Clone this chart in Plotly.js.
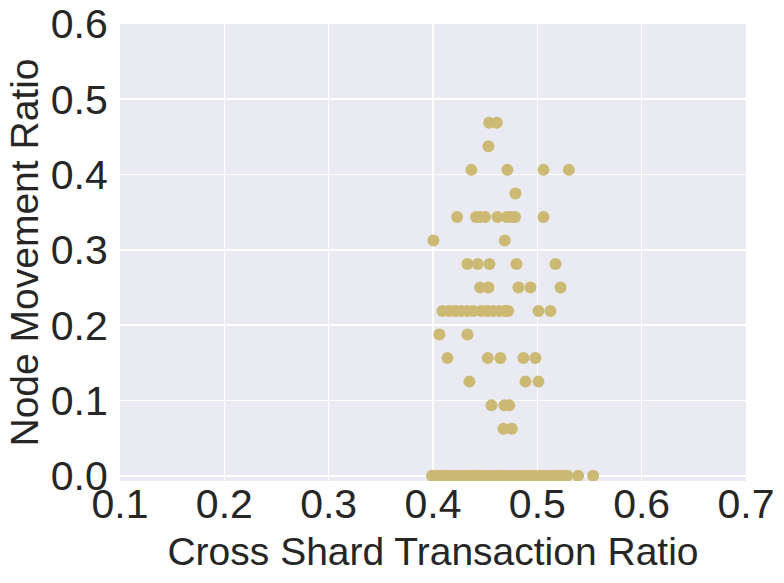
<!DOCTYPE html>
<html>
<head>
<meta charset="utf-8">
<script src="https://cdn.plot.ly/plotly-3.0.1.min.js"></script>
<style>html,body{margin:0;padding:0;background:#fff;}#chart{width:784px;height:583px;}</style>
</head>
<body>
<div id="chart"></div>
<script>
// Cross shard transaction ratio (x) and node movement ratio (y), row by row
const xRow0469 = [0.4538, 0.4612];
const xRow0438 = [0.4531];
const xRow0406 = [0.4368, 0.4713, 0.5059, 0.5302];
const xRow0375 = [0.4790];
const xRow0344 = [0.4231, 0.4413, 0.4452, 0.4499, 0.4618, 0.4708, 0.4748, 0.4787, 0.5059];
const xRow0313 = [0.4004, 0.4688];
const xRow0281 = [0.4330, 0.4429, 0.4541, 0.4800, 0.5174];
const xRow0250 = [0.4452, 0.4531, 0.4819, 0.4934, 0.5222];
const xRow0219 = [0.4090, 0.4154, 0.4212, 0.4269, 0.4327, 0.4384, 0.4461, 0.4519, 0.4576, 0.4634, 0.4691, 0.4720, 0.5011, 0.5126];
const xRow0188 = [0.4061, 0.4330];
const xRow0156 = [0.4138, 0.4525, 0.4646, 0.4867, 0.4982];
const xRow0125 = [0.4349, 0.4886, 0.5011];
const xRow0094 = [0.4560, 0.4685, 0.4730];
const xRow0063 = [0.4675, 0.4755];
const xRow0000 = [0.3991, 0.4039, 0.4087, 0.4126, 0.4174, 0.4221, 0.4260, 0.4308, 0.4356, 0.4394,
                  0.4442, 0.4490, 0.4528, 0.4576, 0.4624, 0.4662, 0.4710, 0.4758, 0.4797, 0.4845,
                  0.4893, 0.4931, 0.4979, 0.5027, 0.5065, 0.5113, 0.5161, 0.5199, 0.5247, 0.5286,
                  0.5391, 0.5535];
const rowValues = [0.46875, 0.4375, 0.40625, 0.375, 0.34375, 0.3125, 0.28125, 0.25, 0.21875, 0.1875, 0.15625, 0.125, 0.09375, 0.0625, 0.0];
const rowX = [xRow0469, xRow0438, xRow0406, xRow0375, xRow0344, xRow0313, xRow0281, xRow0250, xRow0219, xRow0188, xRow0156, xRow0125, xRow0094, xRow0063, xRow0000];

const xTickVals = [0.1, 0.2, 0.3, 0.4, 0.5, 0.6, 0.7];
const xTickText = ['0.1', '0.2', '0.3', '0.4', '0.5', '0.6', '0.7'];
const yTickVals = [0.0, 0.1, 0.2, 0.3, 0.4, 0.5, 0.6];
const yTickText = ['0.0', '0.1', '0.2', '0.3', '0.4', '0.5', '0.6'];

const xs = [], ys = [];
rowX.forEach((row, i) => row.forEach(v => { xs.push(v); ys.push(rowValues[i]); }));

const font = {family: 'Liberation Sans, Arial, sans-serif', color: '#262626'};

Plotly.newPlot('chart', [{
  type: 'scatter', mode: 'markers', x: xs, y: ys,
  marker: {color: '#CCB974', size: 12, line: {width: 0}},
  hoverinfo: 'skip'
}], {
  width: 784, height: 583,
  margin: {l: 120, r: 38, t: 24, b: 102},
  paper_bgcolor: '#ffffff', plot_bgcolor: '#EAEAF2',
  showlegend: false,
  xaxis: {
    range: [0.1, 0.7], tickvals: xTickVals, ticktext: xTickText,
    showgrid: true, gridcolor: '#ffffff', gridwidth: 1.6, zeroline: false,
    showline: false, ticks: '', ticklen: 0, ticklabelstandoff: -5,
    tickfont: Object.assign({size: 41}, font),
    title: {text: 'Cross Shard Transaction Ratio', font: Object.assign({size: 39}, font), standoff: 11}
  },
  yaxis: {
    range: [-0.007, 0.6], tickvals: yTickVals, ticktext: yTickText,
    showgrid: true, gridcolor: '#ffffff', gridwidth: 1.6, zeroline: true, zerolinecolor: '#ffffff', zerolinewidth: 1.6,
    showline: false, ticks: 'outside', ticklen: 3, tickcolor: 'rgba(0,0,0,0)',
    tickfont: Object.assign({size: 41}, font),
    title: {text: 'Node Movement Ratio', font: Object.assign({size: 39}, font), standoff: 0}
  }
}, {displayModeBar: false, staticPlot: true});
</script>
</body>
</html>
